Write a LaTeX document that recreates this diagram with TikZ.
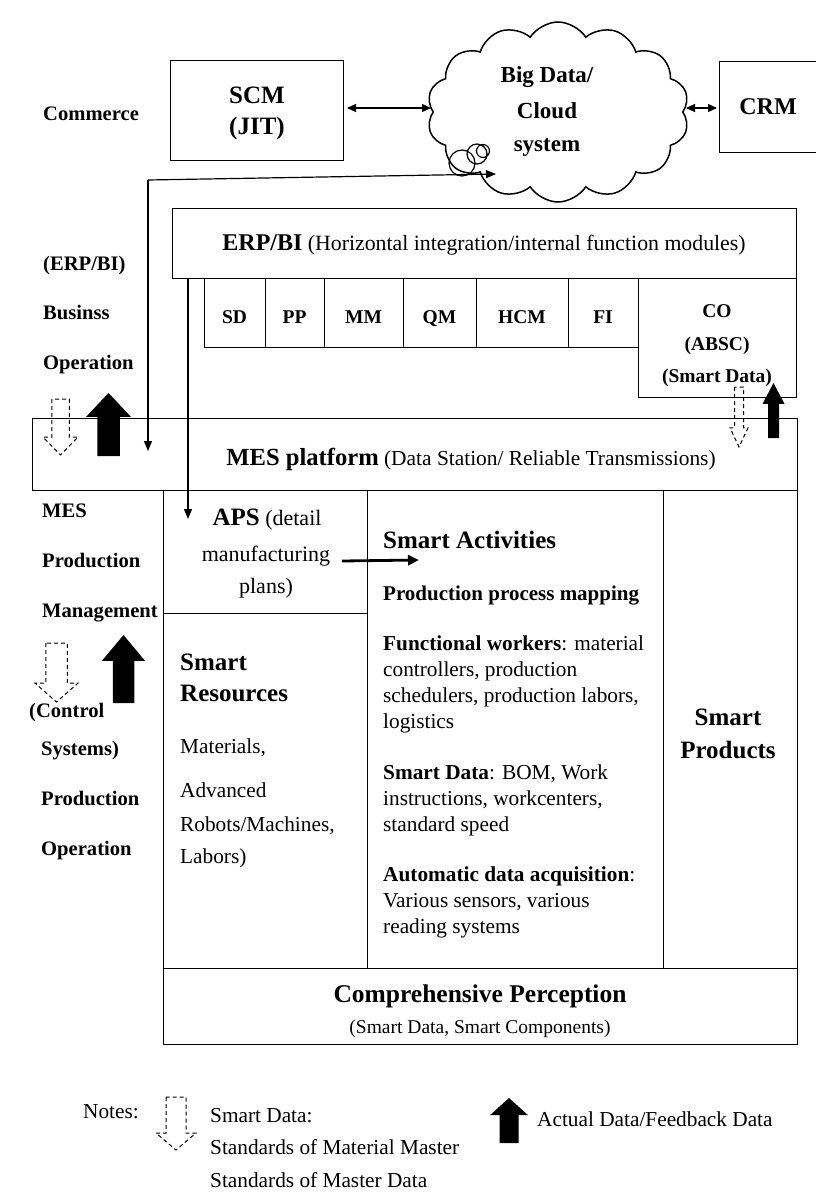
\documentclass[tikz,border=0pt]{standalone}
\usepackage{fontspec}
\setmainfont{Liberation Serif}
\usetikzlibrary{arrows.meta,shapes.symbols}
\tikzset{
  frame/.style={draw, line width=1.4pt, inner sep=0pt, anchor=north west},
  side/.style={font=\bfseries\fontsize{20.6}{24}\selectfont, anchor=base west, inner sep=0pt},
  bodytxt/.style={font=\fontsize{21.3}{24}\selectfont, anchor=base west, inner sep=0pt},
  bodyc/.style={font=\fontsize{22}{24}\selectfont, anchor=base, inner sep=0pt},
  boldc/.style={font=\bfseries\fontsize{23}{26}\selectfont, anchor=base, inner sep=0pt},
  modc/.style={font=\bfseries\fontsize{19.5}{22}\selectfont, anchor=base, inner sep=0pt},
  bigw/.style={font=\bfseries\fontsize{25}{28}\selectfont, anchor=base west, inner sep=0pt},
  bigc/.style={font=\bfseries\fontsize{25}{28}\selectfont, anchor=base, inner sep=0pt},
  notetxt/.style={font=\fontsize{21.3}{24}\selectfont, anchor=base west, inner sep=0pt},
  conn/.style={line width=1.2pt, -{Triangle[length=10pt,width=8pt]}},
  dconn/.style={line width=1.2pt, {Triangle[length=9pt,width=8pt]}-{Triangle[length=9pt,width=8pt]}},
  thickconn/.style={line width=2.8pt, -{Triangle[length=11pt,width=10pt]}},
  smartdata/.pic={\draw[line width=1pt, dash pattern=on 4pt off 3pt] (-0.25,-1) -- (-0.25,-0.32) -- (-0.5,-0.32) -- (0,0) -- (0.5,-0.32) -- (0.25,-0.32) -- (0.25,-1) -- cycle;},
  feedback/.pic={\fill (-0.25,0) -- (-0.25,-0.62) -- (-0.5,-0.62) -- (0,-1) -- (0.5,-0.62) -- (0.25,-0.62) -- (0.25,0) -- cycle;}
}
\begin{document}
\begin{tikzpicture}[x=1pt,y=-1pt]
\useasboundingbox[fill=white] (0,0) rectangle (815,1198);

% ---------- Commerce row ----------
\node[side] (commerce) at (43,121) {Commerce};
\node[frame, minimum width=173pt, minimum height=100pt] (scm) at (170,60) {};
\node[boldc, font=\bfseries\fontsize{25}{28}\selectfont] (scmt1) at (257,104) {SCM};
\node[boldc, font=\bfseries\fontsize{25}{28}\selectfont] (scmt2) at (257,135) {(JIT)};
\node[cloud, draw, line width=1.5pt, cloud puffs=14, cloud puff arc=115, aspect=1.4,
      minimum width=262pt, minimum height=180pt, inner sep=0pt] (cloud) at (558,112) {};
\node[boldc] (cl1) at (547,83) {Big Data/};
\node[boldc] (cl2) at (547,119) {Cloud};
\node[boldc] (cl3) at (547,152) {system};
\draw[line width=1.2pt] (462,163) circle (13pt) (477,154) circle (10pt) (483,151) circle (6.5pt);
\node[frame, minimum width=110pt, minimum height=91pt] (crm) at (719,61) {};
\node[boldc, font=\bfseries\fontsize{24}{26}\selectfont] (crmt) at (768,115) {CRM};
\coordinate (scmR) at (347,108);
\coordinate (clL) at (431,108);
\coordinate (clR) at (686,108);
\coordinate (crmL) at (717,108);
\draw[dconn] (scmR) -- (clL);
\draw[dconn] (clR) -- (crmL);

% feedback line from MES up to cloud
\coordinate (corner) at (148,180);
\coordinate (cloudin) at (496,174);
\coordinate (mesin) at (148,451);
\draw[conn] (corner) -- (cloudin);
\draw[conn] (corner) -- (mesin);

% ---------- ERP/BI ----------
\node[side] (l1) at (43,270) {(ERP/BI)};
\node[side] (l2) at (43,319) {Businss};
\node[side] (l3) at (43,369) {Operation};
\node[frame, minimum width=624pt, minimum height=70pt] (erp) at (172,208) {};
\node[anchor=base, inner sep=0pt] (erpt) at (484,251) {{\bfseries\fontsize{24}{26}\selectfont ERP/BI}\fontsize{21.8}{24}\selectfont\ (Horizontal integration/internal function modules)};
\node[frame, minimum width=61pt, minimum height=69pt] (sd) at (204,278) {};
\node[frame, minimum width=59pt, minimum height=69pt] (pp) at (265,278) {};
\node[frame, minimum width=79pt, minimum height=69pt] (mm) at (324,278) {};
\node[frame, minimum width=73pt, minimum height=69pt] (qm) at (403,278) {};
\node[frame, minimum width=92pt, minimum height=69pt] (hcm) at (476,278) {};
\node[frame, minimum width=70pt, minimum height=69pt] (fi) at (568,278) {};
\node[frame, minimum width=158pt, minimum height=119pt] (co) at (638,278) {};
\node[modc] (sdt) at (234.5,323) {SD};
\node[modc] (ppt) at (294.5,323) {PP};
\node[modc] (mmt) at (363.5,323) {MM};
\node[modc] (qmt) at (439.5,323) {QM};
\node[modc] (hcmt) at (522,323) {HCM};
\node[modc] (fit) at (603,323) {FI};
\node[modc] (cot1) at (717,317) {CO};
\node[modc] (cot2) at (717,350) {(ABSC)};
\node[modc] (cot3) at (717,382) {(Smart Data)};

% ---------- MES platform ----------
\node[frame, minimum width=765pt, minimum height=72pt] (mes) at (32,418) {};
\node[anchor=base, inner sep=0pt] (mest) at (471,465) {{\bfseries\fontsize{24.6}{26}\selectfont MES platform}\fontsize{21.4}{24}\selectfont\ (Data Station/ Reliable Transmissions)};
\pic[xscale=35, yscale=56] (sdA) at (60.5,455) {smartdata};
\pic[xscale=45, yscale=63] (fbA) at (108.5,456) {feedback};
\pic[xscale=18, yscale=60] (sdB) at (739,447) {smartdata};
\pic[xscale=22, yscale=55] (fbB) at (773.5,438) {feedback};

% ---------- Production management ----------
\node[side] (m1) at (42,517) {MES};
\node[side] (m2) at (42,567) {Production};
\node[side] (m3) at (42,617) {Management};
\pic[xscale=43, yscale=59] (sdC) at (56.5,702) {smartdata};
\pic[xscale=43, yscale=68] (fbC) at (123.5,703) {feedback};
\node[side] (m4) at (29,717) {(Control};
\node[side] (m5) at (41,755) {Systems)};
\node[side] (m6) at (41,805) {Production};
\node[side] (m7) at (41,855) {Operation};

\node[frame, minimum width=204pt, minimum height=123pt] (aps) at (163,490) {};
\node[frame, minimum width=204pt, minimum height=355pt] (res) at (163,613) {};
\node[frame, minimum width=296pt, minimum height=478pt] (act) at (367,490) {};
\node[frame, minimum width=134pt, minimum height=478pt] (prod) at (663,490) {};
\node[frame, minimum width=634pt, minimum height=76pt] (comp) at (163,968) {};

\coordinate (erpdrop) at (188,278);
\coordinate (apsin) at (188,519);
\draw[conn] (erpdrop) -- (apsin);

\node[anchor=base, inner sep=0pt] (apst1) at (267,525) {{\bfseries\fontsize{25}{28}\selectfont APS}\fontsize{22}{24}\selectfont\ (detail};
\node[bodyc] (apst2) at (266,561) {manufacturing};
\node[bodyc] (apst3) at (266,593) {plans)};
\coordinate (apsout) at (342,561);
\coordinate (actin) at (419,560);
\draw[thickconn] (apsout) -- (actin);

\node[bigw] (sa) at (383,548) {Smart Activities};
\node[bodytxt, font=\bfseries\fontsize{21}{24}\selectfont] (a1) at (383,600) {Production process mapping};
\node[bodytxt] (a2) at (383,650) {\textbf{Functional workers}: material};
\node[bodytxt] (a3) at (383,676) {controllers, production};
\node[bodytxt] (a4) at (383,702) {schedulers, production labors,};
\node[bodytxt] (a5) at (383,728) {logistics};
\node[bodytxt] (a6) at (383,779) {\textbf{Smart Data}: BOM, Work};
\node[bodytxt] (a7) at (383,805) {instructions, workcenters,};
\node[bodytxt] (a8) at (383,831) {standard speed};
\node[bodytxt] (a9) at (383,881) {\textbf{Automatic data acquisition}:};
\node[bodytxt] (a10) at (383,907) {Various sensors, various};
\node[bodytxt] (a11) at (383,933) {reading systems};

\node[bigw] (sr1) at (180,670) {Smart};
\node[bigw] (sr2) at (180,701) {Resources};
\node[bodytxt] (r1) at (180,753) {Materials,};
\node[bodytxt] (r2) at (180,797) {Advanced};
\node[bodytxt] (r3) at (180,831) {Robots/Machines,};
\node[bodytxt] (r4) at (180,863) {Labors)};

\node[bigc] (sp1) at (728,725) {Smart};
\node[bigc] (sp2) at (728,758) {Products};

\node[bigc, font=\bfseries\fontsize{25.5}{28}\selectfont] (cp1) at (480,1002) {Comprehensive Perception};
\node[anchor=base, inner sep=0pt, font=\fontsize{19.5}{22}\selectfont] (cp2) at (480,1033) {(Smart Data, Smart Components)};

% ---------- Notes ----------
\node[notetxt] (notes) at (83,1118) {Notes:};
\pic[xscale=40, yscale=53] (sdN) at (176,1150) {smartdata};
\node[notetxt] (n1) at (210,1122) {Smart Data:};
\node[notetxt] (n2) at (210,1154) {Standards of Material Master};
\node[notetxt] (n3) at (210,1187) {Standards of Master Data};
\pic[xscale=38, yscale=45] (fbN) at (509,1143) {feedback};
\node[notetxt] (n4) at (537,1126) {Actual Data/Feedback Data};
\end{tikzpicture}
\end{document}
